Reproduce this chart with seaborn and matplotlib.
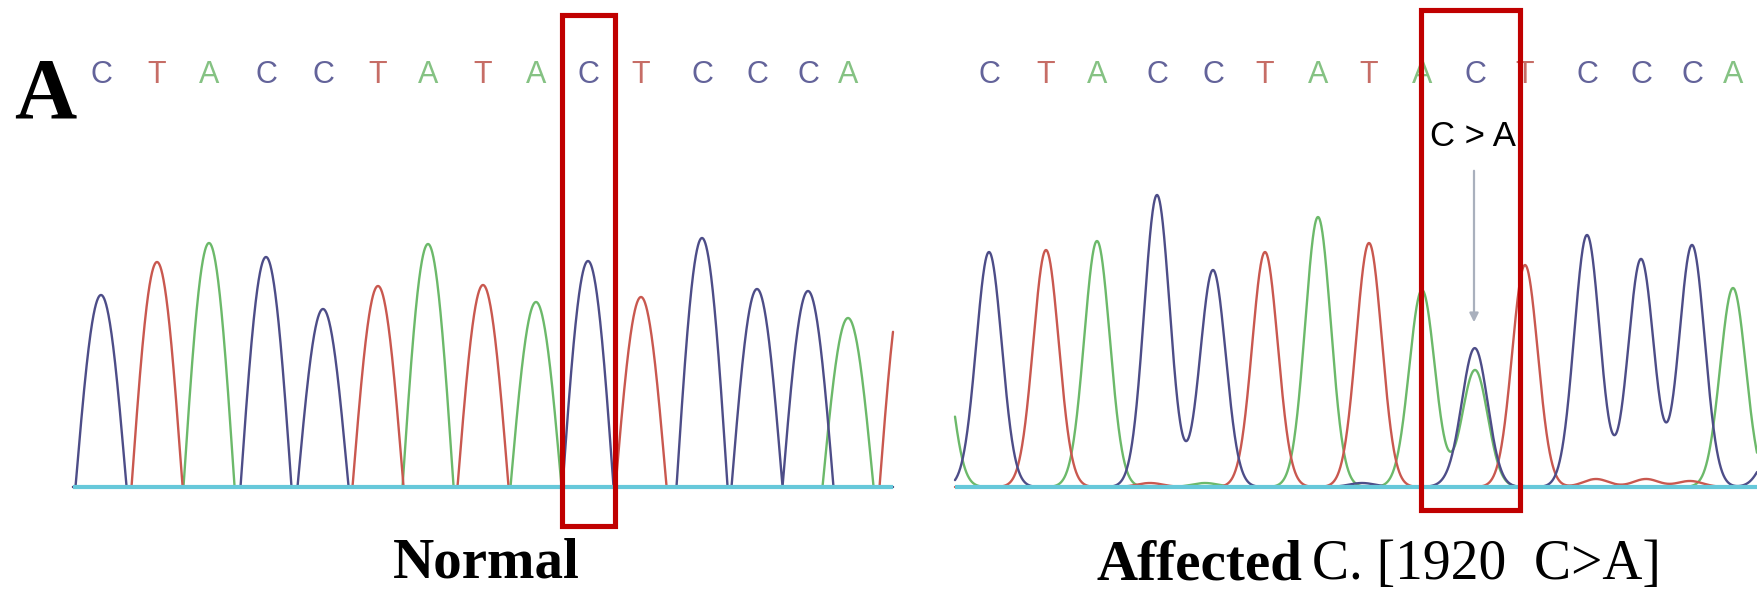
import numpy as np
import pandas as pd
import matplotlib
matplotlib.use('Agg')
import matplotlib.pyplot as plt
import seaborn as sns

# base calls, same 15-base stretch in both reads
bases = ['C', 'T', 'A', 'C', 'C', 'T', 'A', 'T', 'A', 'C', 'T', 'C', 'C', 'C', 'A']
mut_index = 9

# normal read: peak centre (scan) and peak height
normal_pos = [101, 157, 209, 266, 323, 378, 428, 483, 536, 588, 641, 702, 757, 808, 848]
normal_height = [192, 225, 244, 230, 178, 201, 243, 202, 185, 226, 190, 249, 198, 196, 169]
normal_extra_base = ['T']          # peak cut by the right edge
normal_extra_pos = [905]
normal_extra_height = [210]

# affected read
affected_pos = [989, 1046, 1097, 1157, 1213, 1265, 1318, 1369, 1422, 1475, 1525, 1587, 1641, 1692, 1733]
affected_height = [235, 237, 246, 292, 217, 235, 270, 244, 197, 137, 222, 252, 228, 242, 199]
# mutant A under the C, edge peaks and small baseline noise
affected_extra_base = ['A', 'A', 'C', 'T', 'A', 'C', 'C', 'T', 'T', 'T']
affected_extra_pos = [1475, 938, 1776, 1150, 1205, 1362, 1457, 1596, 1646, 1690]
affected_extra_height = [117, 170, 45, 4, 4, 4, 5, 8, 8, 6]

normal_range = (73, 893)
affected_range = (955, 1757)

trace_colors = {'A': '#6cb96a', 'T': '#c9584f', 'C': '#4d4d88'}
letter_colors = {'A': '#85c283', 'T': '#c66d66', 'C': '#63639a'}


def build_trace(rng, base_list, pos_list, height_list, shape):
    xs = np.linspace(rng[0], rng[1], 3000)
    frames = []
    for b in ['A', 'T', 'C']:
        ys = np.zeros_like(xs)
        for bb, p, h in zip(base_list, pos_list, height_list):
            if bb != b:
                continue
            dx = xs - p
            if shape == 'bell':
                w = 25.5
                ys += np.where(np.abs(dx) < w, h * np.cos(np.pi / 2 * dx / w), 0)
            else:
                s = 12.8
                ys += h * np.exp(-dx ** 2 / (2 * s ** 2))
        frames.append(pd.DataFrame({'scan': xs, 'signal': ys, 'base': b}))
    return pd.concat(frames, ignore_index=True)


df_normal = build_trace(normal_range, bases + normal_extra_base,
                        normal_pos + normal_extra_pos,
                        normal_height + normal_extra_height, 'bell')
df_affected = build_trace(affected_range, bases + affected_extra_base,
                          affected_pos + affected_extra_pos,
                          affected_height + affected_extra_height, 'gauss')

sns.set_style('white')
W, H = 1757, 591
fig = plt.figure(figsize=(W / 100, H / 100), dpi=100)

# axes: one data unit is one pixel, baseline at 0
ax1 = fig.add_axes([0, 0, 924 / W, 1])
ax1.set_xlim(0, 924)
ax2 = fig.add_axes([924 / W, 0, (W - 924) / W, 1])
ax2.set_xlim(924, W)
for ax in (ax1, ax2):
    ax.set_ylim(-104, 487)
    ax.axis('off')

letter_font = ['Liberation Sans', 'DejaVu Sans']

for ax, df, pos, rng in [(ax1, df_normal, normal_pos, normal_range),
                         (ax2, df_affected, affected_pos, affected_range)]:
    sns.lineplot(data=df, x='scan', y='signal', hue='base', hue_order=['A', 'T', 'C'],
                 palette=trace_colors, estimator=None, sort=False, legend=False,
                 linewidth=1.7, ax=ax)
    ax.hlines(0, rng[0], rng[1], color='#66c8da', linewidth=3, zorder=5)
    for b, p in zip(bases, pos):
        ax.text(p, 412, b, color=letter_colors[b], fontsize=22, ha='center', va='center',
                family=letter_font, zorder=2)

# red boxes around the mutated base
p = normal_pos[mut_index]
ax1.add_patch(plt.Rectangle((p - 26.5, -39), 53, 511.5, fill=False,
                            edgecolor='#c00000', linewidth=3.7, zorder=10))
p = affected_pos[mut_index]
ax2.add_patch(plt.Rectangle((p - 54, -22.5), 99, 499.5, fill=False,
                            edgecolor='#c00000', linewidth=3.7, zorder=10))

# C > A label and arrow
ax2.text(p - 2, 350, 'C > A', fontsize=25, ha='center', va='center',
         family=letter_font, color='black', zorder=11)
ax2.annotate('', xy=(p - 1, 162), xytext=(p - 1, 319),
             arrowprops=dict(arrowstyle='-|>', color='#a9b0bd', lw=1.6,
                             mutation_scale=13))

serif = ['Liberation Serif', 'DejaVu Serif']
ax1.text(14, 370, 'A', fontsize=62, fontweight='bold', family=serif,
         ha='left', va='baseline', color='black')
ax1.text(486, -91, 'Normal', fontsize=41, fontweight='bold', family=serif,
         ha='center', va='baseline', color='black')
ax2.text(1302, -92, 'Affected', fontsize=41, fontweight='bold', family=serif,
         ha='right', va='baseline', color='black')
ax2.text(1312, -92, 'C. [1920  C>A]', fontsize=40, family=serif,
         ha='left', va='baseline', color='black')

fig.savefig('out.png', dpi=100)
